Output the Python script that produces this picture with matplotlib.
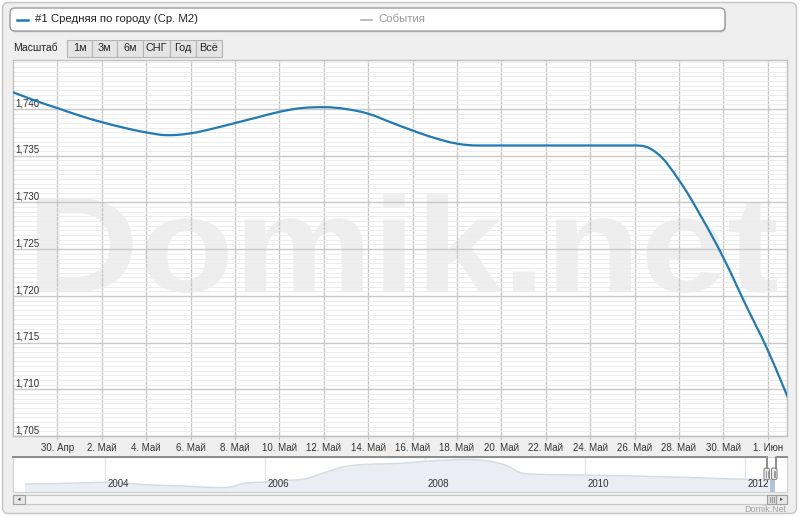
import numpy as np
import pandas as pd
import matplotlib
matplotlib.use('Agg')
import matplotlib.pyplot as plt
import matplotlib.dates as mdates
from matplotlib.path import Path
from matplotlib.patches import PathPatch, FancyBboxPatch, Rectangle, Polygon
from matplotlib.textpath import TextPath
from matplotlib.font_manager import FontProperties
from matplotlib.transforms import Affine2D

plt.rcParams['font.family'] = ['Liberation Sans', 'DejaVu Sans']

# ---- data ----
days = pd.date_range('2012-04-28', '2012-06-02', freq='D')
prices = [1.7418, 1.7409, 1.7401,                                   # 28-30 Apr
          1.7393, 1.7386, 1.7380, 1.7375, 1.7372, 1.7374, 1.7379,   # 1-7 May
          1.7385, 1.7391, 1.7397, 1.7401, 1.7402, 1.7400, 1.7395,   # 8-14 May
          1.7386, 1.7377, 1.7369, 1.7363, 1.7361, 1.7361, 1.7361,   # 15-21 May
          1.7361, 1.7361, 1.7361, 1.7361, 1.7361, 1.7353, 1.7324,   # 22-28 May
          1.7285, 1.7241, 1.7191,                                   # 29-31 May
          1.7142, 1.7086]                                           # 1-2 Jun

tick_dates = pd.date_range('2012-04-30', '2012-06-01', freq='2D')
tick_labels = ['30. Апр', '2. Май', '4. Май', '6. Май', '8. Май', '10. Май',
               '12. Май', '14. Май', '16. Май', '18. Май', '20. Май', '22. Май',
               '24. Май', '26. Май', '28. Май', '30. Май', '1. Июн']
y_ticks = [1.705, 1.710, 1.715, 1.720, 1.725, 1.730, 1.735, 1.740]

# navigator (whole history, quarterly)
nav_years = [2003.0 + 0.25 * k for k in range(38)] + [2012.35]
nav_values = [1.560, 1.568, 1.578, 1.594, 1.605, 1.587, 1.541, 1.520, 1.506, 1.474,
              1.466, 1.581, 1.613, 1.653, 1.699, 1.867, 2.027, 2.083, 2.099, 2.121,
              2.169, 2.195, 2.217, 2.187, 2.067, 1.837, 1.816, 1.805, 1.800, 1.789,
              1.779, 1.765, 1.752, 1.739, 1.720, 1.701, 1.688, 1.685, 1.685]
nav_year_ticks = [2004, 2006, 2008, 2010, 2012]

series_name = '#1 Средняя по городу (Ср. M2)'
events_name = 'События'
zoom_label = 'Масштаб'
zoom_buttons = ['1м', '3м', '6м', 'СНГ', 'Год', 'Всё']

W, H = 800, 516
BLUE = '#1f7ab5'
TXT = '#333333'


def spline_path(x, y, smoothing=1.5):
    # highcharts-like spline through the points
    denom = smoothing + 1
    n = len(x)
    lc = [(x[i], y[i]) for i in range(n)]
    rc = [(x[i], y[i]) for i in range(n)]
    for i in range(1, n - 1):
        px, py = x[i], y[i]
        lx, ly = x[i - 1], y[i - 1]
        nx, ny = x[i + 1], y[i + 1]
        lcx = (smoothing * px + lx) / denom
        lcy = (smoothing * py + ly) / denom
        rcx = (smoothing * px + nx) / denom
        rcy = (smoothing * py + ny) / denom
        corr = (rcy - lcy) * (rcx - px) / (rcx - lcx) + py - rcy
        lcy += corr
        rcy += corr
        if lcy > ly and lcy > py:
            lcy = max(ly, py); rcy = 2 * py - lcy
        elif lcy < ly and lcy < py:
            lcy = min(ly, py); rcy = 2 * py - lcy
        if rcy > ny and rcy > py:
            rcy = max(ny, py); lcy = 2 * py - rcy
        elif rcy < ny and rcy < py:
            rcy = min(ny, py); lcy = 2 * py - rcy
        lc[i] = (lcx, lcy)
        rc[i] = (rcx, rcy)
    verts = [(x[0], y[0])]
    codes = [Path.MOVETO]
    for i in range(1, n):
        verts += [rc[i - 1], lc[i], (x[i], y[i])]
        codes += [Path.CURVE4] * 3
    return verts, codes


def fx(px):
    return px / W


def fy(py):
    return 1 - py / H


fig = plt.figure(figsize=(8, 5.16), dpi=100)
fig.patch.set_facecolor('white')

# background layer in pixel coordinates
bg = fig.add_axes([0, 0, 1, 1], zorder=0)
bg.set_xlim(0, W); bg.set_ylim(H, 0); bg.axis('off')
bg.add_patch(FancyBboxPatch((2.5, 2.5), 794, 511, boxstyle='round,pad=0,rounding_size=6',
                            fc='#efefef', ec='#c4c4c4', lw=1))

# legend box
bg.add_patch(FancyBboxPatch((11, 9.5), 715, 23, boxstyle='round,pad=0,rounding_size=5',
                            fc='#d4d4d4', ec='none'))
bg.add_patch(FancyBboxPatch((10, 8), 715, 23, boxstyle='round,pad=0,rounding_size=5',
                            fc='white', ec='#9a9a9a', lw=1))
bg.plot([17, 28], [19.5, 19.5], color=BLUE, lw=1.8)
bg.text(35, 19.5, series_name, fontsize=8.2, color='#222222', va='center', ha='left')
bg.plot([361, 372], [19.5, 19.5], color='#b0b0b0', lw=1.2)
bg.text(378, 19.5, events_name, fontsize=8.2, color='#999999', va='center', ha='left')

# range selector
bg.text(13, 48, zoom_label, fontsize=7.5, color='#222222', va='center', ha='left')
btn_edges = [67, 92, 117, 143, 170, 196, 222]
for i, lab in enumerate(zoom_buttons):
    x0, x1 = btn_edges[i], btn_edges[i + 1]
    bg.add_patch(Rectangle((x0, 39.5), x1 - x0, 17, fc='#e4e4e4', ec='#b4b4b4', lw=0.8))
    bg.text((x0 + x1) / 2, 48, lab, fontsize=7.8, color='#222222', va='center', ha='center')

# scrollbar
bg.add_patch(Rectangle((13, 495), 774, 8.5, fc='#f4f4f4', ec='#c8c8c8', lw=0.8))
bg.add_patch(Rectangle((13, 495), 12, 8.5, fc='#e6e6e6', ec='#a0a0a0', lw=0.8))
bg.add_patch(Polygon([[20.5, 497.5], [20.5, 501], [17.5, 499.25]], closed=True, fc='#555555', ec='none'))
bg.add_patch(Rectangle((776, 495), 11, 8.5, fc='#e6e6e6', ec='#a0a0a0', lw=0.8))
bg.add_patch(Polygon([[780, 497.5], [780, 501], [783, 499.25]], closed=True, fc='#555555', ec='none'))
bg.add_patch(Rectangle((767, 495), 9, 8.5, fc='#dcdcdc', ec='#a0a0a0', lw=0.8))
for xl in [770, 772, 774]:
    bg.plot([xl, xl], [497, 501.5], color='#888888', lw=0.6)
bg.text(786, 509, 'Domik.Net', fontsize=6.5, color='#a0a0a0', va='center', ha='right')

# ---- main chart ----
ax = fig.add_axes([fx(13), fy(436), fx(774), 376 / H], zorder=2)
ax.set_facecolor('white')
x0 = mdates.date2num(pd.Timestamp('2012-04-28'))
x1 = mdates.date2num(pd.Timestamp('2012-06-01')) + 0.87
ax.set_xlim(x0, x1)
ax.set_ylim(1.705, 1.74525)

# watermark
fp = FontProperties(family='Liberation Sans', weight='bold')
tp = TextPath((0, 0), 'Domik.net', size=100, prop=fp)
ext = tp.get_extents()
wm_tr = (Affine2D().translate(-ext.x0, -ext.y0)
         .scale(740 / ext.width, -100 / ext.height)
         .translate(37, 293)) + bg.transData
ax.add_patch(PathPatch(tp, transform=wm_tr, fc='#eeeeee', ec='none', zorder=1))

ax.set_xticks(mdates.date2num(tick_dates))
ax.set_xticklabels(tick_labels)
ax.set_yticks(y_ticks)
ax.set_yticks(np.arange(1.705, 1.7453, 0.0005), minor=True)
ax.set_yticklabels([])
ax.tick_params(axis='x', length=3, color='#c0c0c0', labelsize=7, labelcolor=TXT, pad=2)
ax.tick_params(axis='y', which='both', length=0)
ax.grid(axis='y', which='minor', color='#ececec', lw=0.7)
ax.grid(axis='y', which='major', color='#c8c8c8', lw=1)
ax.grid(axis='x', which='major', color='#c8c8c8', lw=1)
for s in ax.spines.values():
    s.set_color('#c0c0c0')
    s.set_linewidth(1)

for v in y_ticks:
    ax.annotate(f'{v:.3f}'.replace('.', ','), xy=(0, v), xycoords=('axes fraction', 'data'),
                xytext=(1.5, 2), textcoords='offset points', fontsize=7, color=TXT,
                ha='left', va='baseline')

xs = mdates.date2num(days)
verts, codes = spline_path(list(xs), prices)
ax.add_patch(PathPatch(Path(verts, codes), fill=False, ec=BLUE, lw=1.6, zorder=3))

# ---- navigator ----
nav = fig.add_axes([fx(13), fy(492), fx(774), 35 / H], zorder=2)
nav.set_facecolor('white')
nav.set_xlim(2002.85, 2012.525)
nav.set_ylim(1.346, 2.281)
nav.set_xticks([])
nav.set_yticks([])
for yr in nav_year_ticks:
    nav.axvline(yr, color='#e6e6e6', lw=1, zorder=0.5)
    nav.annotate(str(yr), xy=(yr, 0.23), xycoords=('data', 'axes fraction'),
                 xytext=(1.5, 0), textcoords='offset points', fontsize=7, color=TXT,
                 ha='left', va='center', zorder=3)
nv, nc = spline_path(nav_years, nav_values)
fill_v = nv + [(nav_years[-1], 1.346), (nav_years[0], 1.346), nv[0]]
fill_c = nc + [Path.LINETO, Path.LINETO, Path.CLOSEPOLY]
nav.add_patch(PathPatch(Path(fill_v, fill_c), fc='#eaeef4', ec='none', zorder=1))
nav.add_patch(PathPatch(Path(nv, nc), fill=False, ec='#d3dbe5', lw=1, zorder=2))
for s in nav.spines.values():
    s.set_color('#d0d0d0')
    s.set_linewidth(0.8)

# navigator outline and handles on top
fg = fig.add_axes([0, 0, 1, 1], zorder=5)
fg.set_xlim(0, W); fg.set_ylim(H, 0); fg.axis('off')
fg.patch.set_alpha(0)
fg.plot([13, 767, 767], [457, 457, 468], color='#8c8c8c', lw=1.4)
fg.plot([776, 776, 787], [468, 457, 457], color='#8c8c8c', lw=1.4)
fg.add_patch(Rectangle((769.5, 479), 5, 13, fc='#a9bfd9', ec='none', alpha=0.9))
for hx in [764, 771.5]:
    fg.add_patch(FancyBboxPatch((hx, 468), 5.5, 11.5, boxstyle='round,pad=0,rounding_size=1.5',
                                fc='#ebe7e8', ec='#8c8c8c', lw=0.8))
    fg.plot([hx + 2, hx + 2], [470.5, 477], color='#8c8c8c', lw=0.6)
    fg.plot([hx + 3.5, hx + 3.5], [470.5, 477], color='#8c8c8c', lw=0.6)

fig.savefig('out.png', dpi=100)
